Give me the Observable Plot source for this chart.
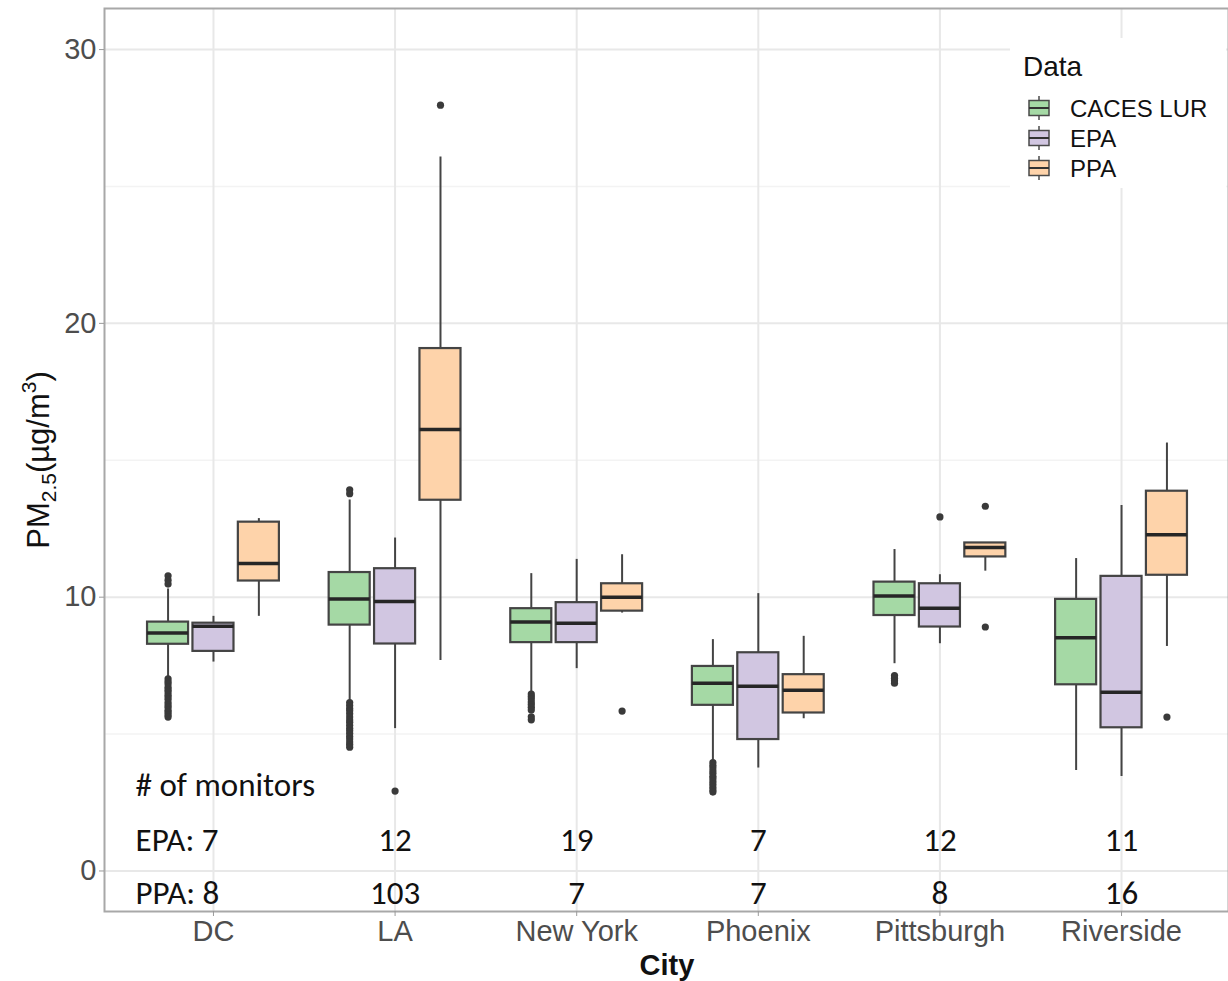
<!DOCTYPE html>
<html>
<head>
<meta charset="utf-8">
<script src="https://cdn.jsdelivr.net/npm/d3@7"></script>
<script src="https://cdn.jsdelivr.net/npm/@observablehq/plot@0.6"></script>
<style>
  html, body { margin: 0; padding: 0; background: white; }
  #chart { position: relative; width: 1228px; height: 981px; }
</style>
</head>
<body>
<div id="chart"></div>
<script>
// ---- Data ----
const cities = ["DC", "LA", "New York", "Phoenix", "Pittsburgh", "Riverside"];
const groups = ["CACES LUR", "EPA", "PPA"];
const colors = ["#a5d9a5", "#d1c6e1", "#fed3aa"];

// CACES LUR box stats per city
const lurLow  = [7.08, 6.23, 6.53, 4.04, 7.57, 3.67];
const lurQ1   = [8.28, 8.98, 8.34, 6.05, 9.33, 6.80];
const lurMed  = [8.69, 9.93, 9.09, 6.86, 10.04, 8.52];
const lurQ3   = [9.09, 10.90, 9.58, 7.47, 10.55, 9.92];
const lurHigh = [10.30, 13.55, 10.86, 8.45, 11.74, 11.41];

// EPA box stats per city
const epaLow  = [7.63, 5.20, 7.39, 3.76, 8.30, 3.45];
const epaQ1   = [8.02, 8.29, 8.34, 4.80, 8.91, 5.23];
const epaMed  = [8.94, 9.84, 9.05, 6.75, 9.60, 6.53];
const epaQ3   = [9.05, 11.04, 9.80, 7.97, 10.49, 10.76];
const epaHigh = [9.30, 12.16, 11.38, 10.13, 10.82, 13.35];

// PPA box stats per city
const ppaLow  = [9.30, 7.69, 9.42, 5.56, 10.95, 8.20];
const ppaQ1   = [10.59, 13.54, 9.49, 5.77, 11.47, 10.80];
const ppaMed  = [11.23, 16.12, 10.00, 6.60, 11.81, 12.28];
const ppaQ3   = [12.74, 19.08, 10.49, 7.17, 11.98, 13.87];
const ppaHigh = [12.87, 26.08, 11.55, 8.57, 11.98, 15.63];

// Outliers: [city, values]
const lurOutliers = [
  ["DC", [10.78, 10.62, 10.48, 7.02, 6.92, 6.83, 6.71, 6.62, 6.55, 6.44, 6.36, 6.27, 6.15, 6.06, 5.98, 5.87, 5.79, 5.70, 5.62]],
  ["LA", [13.92, 13.78, 6.15, 6.04, 5.93, 5.85, 5.74, 5.62, 5.51, 5.43, 5.32, 5.21, 5.12, 5.02, 4.91, 4.82, 4.71, 4.62, 4.52]],
  ["New York", [6.46, 6.37, 6.28, 6.17, 6.08, 5.98, 5.88, 5.63, 5.52]],
  ["Phoenix", [3.96, 3.86, 3.77, 3.66, 3.57, 3.46, 3.38, 3.27, 3.17, 3.06, 2.96, 2.88]],
  ["Pittsburgh", [7.14, 7.04, 6.95, 6.86]]
];
const epaOutliers = [
  ["LA", [2.92]],
  ["Pittsburgh", [12.93]]
];
const ppaOutliers = [
  ["LA", [27.97]],
  ["New York", [5.84]],
  ["Pittsburgh", [13.32, 8.91]],
  ["Riverside", [5.62]]
];

const epaMonitors = [7, 12, 19, 7, 12, 11];
const ppaMonitors = [8, 103, 7, 7, 8, 16];

const yTicks = [0, 10, 20, 30];

// ---- Build tables ----
const statSets = [
  [lurLow, lurQ1, lurMed, lurQ3, lurHigh],
  [epaLow, epaQ1, epaMed, epaQ3, epaHigh],
  [ppaLow, ppaQ1, ppaMed, ppaQ3, ppaHigh]
];
const OFF = 0.25, HALF = 0.113;
const boxes = groups.flatMap((g, gi) => cities.map((c, ci) => {
  const [lo, q1, md, q3, hi] = statSets[gi].map(a => a[ci]);
  return {group: g, pos: ci + 1 + (gi - 1) * OFF, lo, q1, md, q3, hi};
}));
const outlierSets = [lurOutliers, epaOutliers, ppaOutliers];
const outliers = groups.flatMap((g, gi) => outlierSets[gi].flatMap(([c, vals]) =>
  vals.map(v => ({group: g, pos: cities.indexOf(c) + 1 + (gi - 1) * OFF, v}))));

const epaLabels = epaMonitors.map((n, i) => ({i: i + 1, label: i === 0 ? `EPA: ${n}` : `${n}`}));
const ppaLabels = ppaMonitors.map((n, i) => ({i: i + 1, label: i === 0 ? `PPA: ${n}` : `${n}`}));

const annFont = "Carlito, Lato, sans-serif";
const annSize = 33;
const LEFT_X = 0.571;

const svg = Plot.plot({
  width: 1228,
  height: 981,
  marginLeft: 104,
  marginRight: 0,
  marginTop: 8,
  marginBottom: 70,
  style: {fontFamily: "'Liberation Sans', Arial, sans-serif", background: "white", color: "#4d4d4d", overflow: "visible"},
  x: {type: "linear", domain: [0.4, 6.6], range: [104, 1230], axis: null},
  y: {domain: [-1.48, 31.5], axis: null},
  color: {domain: groups, range: colors},
  marks: [
    // grid
    Plot.ruleY([5, 15, 25], {stroke: "#f3f3f3", strokeWidth: 1.5}),
    Plot.ruleY(yTicks, {stroke: "#e8e8e8", strokeWidth: 2}),
    Plot.ruleX(cities.map((c, i) => i + 1), {stroke: "#e8e8e8", strokeWidth: 2}),
    // whiskers
    Plot.ruleX(boxes, {x: "pos", y1: "lo", y2: "hi", stroke: "#444", strokeWidth: 2}),
    // boxes
    Plot.rect(boxes, {x1: d => d.pos - HALF, x2: d => d.pos + HALF, y1: "q1", y2: "q3", fill: "group", stroke: "#444", strokeWidth: 2.2}),
    // medians
    Plot.ruleY(boxes, {x1: d => d.pos - HALF, x2: d => d.pos + HALF, y: "md", stroke: "#262626", strokeWidth: 3.5}),
    // outliers
    Plot.dot(outliers, {x: "pos", y: "v", r: 3.6, fill: "#3a3a3a", stroke: null}),
    // annotations
    Plot.text(["# of monitors"], {x: () => LEFT_X, y: () => 3.12, text: d => d, textAnchor: "start", fontSize: annSize, fontFamily: annFont, fill: "#111"}),
    Plot.text(epaLabels, {filter: d => d.i === 1, x: () => LEFT_X, y: () => 1.12, text: "label", textAnchor: "start", fontSize: annSize, fontFamily: annFont, fill: "#111"}),
    Plot.text(epaLabels, {filter: d => d.i !== 1, x: "i", y: () => 1.12, text: "label", fontSize: annSize, fontFamily: annFont, fill: "#111"}),
    Plot.text(ppaLabels, {filter: d => d.i === 1, x: () => LEFT_X, y: () => -0.82, text: "label", textAnchor: "start", fontSize: annSize, fontFamily: annFont, fill: "#111"}),
    Plot.text(ppaLabels, {filter: d => d.i !== 1, x: "i", y: () => -0.82, text: "label", fontSize: annSize, fontFamily: annFont, fill: "#111"}),
    // frame
    Plot.frame({stroke: "#a8a8a8", strokeWidth: 2}),
    // axes
    Plot.axisY({ticks: yTicks, tickSize: 5, tickPadding: 3, fontSize: 29, label: null, stroke: "#9a9a9a", fill: "#4d4d4d"}),
    Plot.axisX({ticks: cities.map((c, i) => i + 1), tickFormat: i => cities[i - 1], tickSize: 5, tickPadding: 4, fontSize: 29, label: null, stroke: "#9a9a9a", fill: "#4d4d4d"})
  ]
});

document.getElementById("chart").appendChild(svg);

const s = d3.select(svg);
// x-axis title
s.append("text").attr("x", 667).attr("y", 975).attr("text-anchor", "middle")
  .attr("font-size", 29).attr("font-weight", "bold").attr("fill", "#111").text("City");

// y-axis title with sub/superscripts
const yt = s.append("text").attr("transform", "translate(49,460) rotate(-90)")
  .attr("text-anchor", "middle").attr("font-size", 31).attr("fill", "#111");
yt.append("tspan").text("PM");
yt.append("tspan").attr("dy", 7).attr("font-size", 21).text("2.5");
yt.append("tspan").attr("dy", -7).text("(µg/m");
yt.append("tspan").attr("dy", -13).attr("font-size", 21).text("3");
yt.append("tspan").attr("dy", 13).text(")");

// legend
const lg = s.append("g").attr("text-anchor", "start");
lg.append("rect").attr("x", 1010).attr("y", 38).attr("width", 216).attr("height", 150).attr("fill", "white");
lg.append("text").attr("x", 1023).attr("y", 76).attr("text-anchor", "start").attr("font-size", 28).attr("fill", "#111").text("Data");
groups.forEach((g, i) => {
  const cy = 108 + i * 30;
  lg.append("line").attr("x1", 1039).attr("x2", 1039).attr("y1", cy - 12).attr("y2", cy + 12)
    .attr("stroke", "#4a4a4a").attr("stroke-width", 1.5);
  lg.append("rect").attr("x", 1029).attr("y", cy - 7.5).attr("width", 20).attr("height", 15)
    .attr("fill", colors[i]).attr("stroke", "#4a4a4a").attr("stroke-width", 1.5);
  lg.append("line").attr("x1", 1029).attr("x2", 1049).attr("y1", cy).attr("y2", cy)
    .attr("stroke", "#333").attr("stroke-width", 2);
  lg.append("text").attr("x", 1070).attr("y", cy + 9).attr("text-anchor", "start").attr("font-size", 24).attr("fill", "#111").text(g);
});
</script>
</body>
</html>
